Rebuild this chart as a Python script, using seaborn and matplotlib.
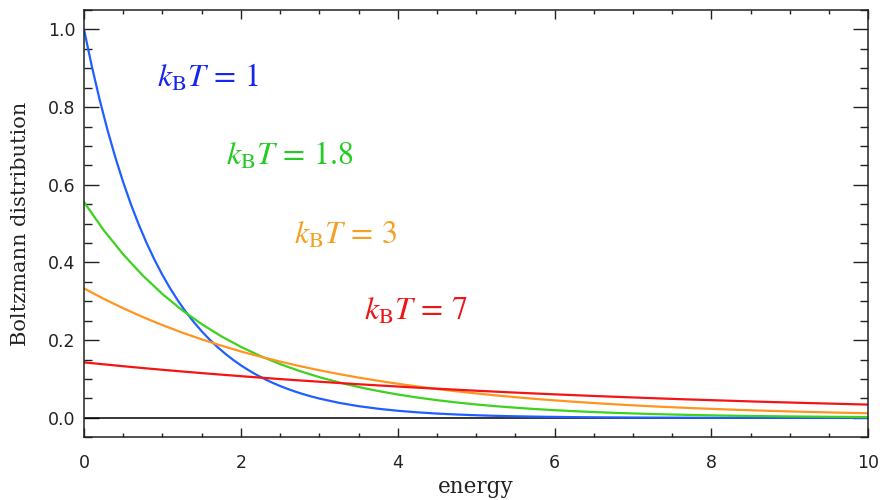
import numpy as np
import pandas as pd
import matplotlib
matplotlib.use("Agg")
import matplotlib.pyplot as plt
import seaborn as sns
from matplotlib.ticker import MultipleLocator

# ---- data (Boltzmann distribution curves) ----
energy = [0.0, 0.25, 0.5, 0.75, 1.0, 1.25, 1.5, 1.75, 2.0, 2.25, 2.5, 2.75,
          3.0, 3.25, 3.5, 3.75, 4.0, 4.25, 4.5, 4.75, 5.0, 5.25, 5.5, 5.75,
          6.0, 6.25, 6.5, 6.75, 7.0, 7.25, 7.5, 7.75, 8.0, 8.25, 8.5, 8.75,
          9.0, 9.25, 9.5, 9.75, 10.0]

# the steep kT=1 curve is read more densely near the origin
energy_kT1 = [0.0, 0.1, 0.2, 0.3, 0.4, 0.5, 0.6, 0.7, 0.8, 0.9, 1.0, 1.1, 1.2,
              1.3, 1.4, 1.5, 1.6, 1.7, 1.8, 1.9, 2.0, 2.1, 2.2, 2.3, 2.4, 2.5,
              2.6, 2.7, 2.8, 2.9, 3.0, 3.25, 3.5, 3.75, 4.0, 4.25, 4.5, 4.75,
              5.0, 5.25, 5.5, 5.75, 6.0, 6.25, 6.5, 6.75, 7.0, 7.25, 7.5, 7.75,
              8.0, 8.25, 8.5, 8.75, 9.0, 9.25, 9.5, 9.75, 10.0]

kT1 = [1.0, 0.9048, 0.8187, 0.7408, 0.6703, 0.6065, 0.5488, 0.4966, 0.4493,
       0.4066, 0.3679, 0.3329, 0.3012, 0.2725, 0.2466, 0.2231, 0.2019, 0.1827,
       0.1653, 0.1496, 0.1353, 0.1225, 0.1108, 0.1003, 0.0907, 0.0821, 0.0743,
       0.0672, 0.0608, 0.0550, 0.0498, 0.0388, 0.0302, 0.0235, 0.0183, 0.0143,
       0.0111, 0.0087, 0.0067, 0.0052, 0.0041, 0.0032, 0.0025, 0.0019, 0.0015,
       0.0012, 0.0009, 0.0007, 0.0006, 0.0004, 0.0003, 0.0003, 0.0002, 0.0002,
       0.0001, 0.0001, 0.0001, 0.0001, 0.0000]

kT18 = [0.5556, 0.4835, 0.4208, 0.3663, 0.3188, 0.2774, 0.2415, 0.2101, 0.1829,
        0.1592, 0.1385, 0.1206, 0.1049, 0.0913, 0.0795, 0.0692, 0.0602, 0.0524,
        0.0456, 0.0397, 0.0345, 0.0301, 0.0262, 0.0228, 0.0198, 0.0173, 0.0150,
        0.0131, 0.0114, 0.0099, 0.0086, 0.0075, 0.0065, 0.0057, 0.0049, 0.0043,
        0.0037, 0.0033, 0.0028, 0.0025, 0.0021]

kT3 = [0.3333, 0.3067, 0.2822, 0.2596, 0.2388, 0.2197, 0.2022, 0.1860, 0.1711,
       0.1575, 0.1449, 0.1333, 0.1226, 0.1128, 0.1038, 0.0955, 0.0879, 0.0808,
       0.0744, 0.0684, 0.0630, 0.0579, 0.0533, 0.0490, 0.0451, 0.0415, 0.0382,
       0.0351, 0.0323, 0.0297, 0.0274, 0.0252, 0.0232, 0.0213, 0.0196, 0.0180,
       0.0166, 0.0153, 0.0140, 0.0129, 0.0119]

kT7 = [0.1429, 0.1379, 0.1330, 0.1283, 0.1238, 0.1195, 0.1153, 0.1113, 0.1074,
       0.1036, 0.0999, 0.0964, 0.0931, 0.0898, 0.0866, 0.0836, 0.0807, 0.0778,
       0.0751, 0.0725, 0.0699, 0.0675, 0.0651, 0.0628, 0.0606, 0.0585, 0.0564,
       0.0545, 0.0526, 0.0507, 0.0489, 0.0472, 0.0456, 0.0440, 0.0424, 0.0409,
       0.0395, 0.0381, 0.0368, 0.0355, 0.0342]

series_names = ["1", "1.8", "3", "7"]
series_x = [energy_kT1, energy, energy, energy]
series_values = [kT1, kT18, kT3, kT7]
line_colors = ["#1f5fff", "#3cd21e", "#ff9520", "#f51414"]
text_colors = ["#1526ee", "#22cc22", "#f5a020", "#ee1515"]
label_pos = [(0.93, 0.852), (1.81, 0.651), (2.68, 0.449), (3.57, 0.2515)]

xticks = [0, 2, 4, 6, 8, 10]
yticks = [0.0, 0.2, 0.4, 0.6, 0.8, 1.0]

df = pd.concat([pd.DataFrame({"energy": x, "f": v, "kT": n})
                for n, x, v in zip(series_names, series_x, series_values)],
               ignore_index=True)

sns.set_style("white")
plt.rcParams["mathtext.fontset"] = "stix"

fig = plt.figure(figsize=(8.83, 5.0), dpi=100)
ax = fig.add_axes([84 / 883, 1 - 437.3 / 500, (868.3 - 84) / 883, (437.3 - 10) / 500])

ax.axhline(0.0, color="black", lw=1.1, zorder=1)
sns.lineplot(data=df, x="energy", y="f", hue="kT", palette=line_colors,
             hue_order=series_names, linewidth=1.6, legend=False, ax=ax,
             sort=False, zorder=2)

for n, c, (tx, ty) in zip(series_names, text_colors, label_pos):
    ax.text(tx, ty, r"$k_{\mathrm{B}}T\,=\," + n + "$", color=c, fontsize=23,
            ha="left", va="baseline")

ax.set_xlim(0, 10)
ax.set_ylim(-0.05, 1.05)
ax.set_xticks(xticks)
ax.set_yticks(yticks)
ax.set_xticklabels([str(t) for t in xticks])
ax.set_yticklabels([f"{t:.1f}" for t in yticks])
ax.xaxis.set_minor_locator(MultipleLocator(0.5))
ax.yaxis.set_minor_locator(MultipleLocator(0.05))

for s in ax.spines.values():
    s.set_color("#222222")
    s.set_linewidth(1.1)

ax.tick_params(axis="x", which="major", direction="in", length=6.2, width=1.0,
               top=True, bottom=True, pad=12, labelsize=12.5, colors="#222222")
ax.tick_params(axis="x", which="minor", direction="in", length=3.0, width=1.0,
               top=True, bottom=True, colors="#222222")
ax.tick_params(axis="y", which="major", direction="in", length=11, width=1.0,
               left=True, right=True, pad=6, labelsize=12.5, colors="#222222")
ax.tick_params(axis="y", which="minor", direction="in", length=5.5, width=1.0,
               left=True, right=True, colors="#222222")
for lab in ax.get_xticklabels() + ax.get_yticklabels():
    lab.set_color("#222222")

ax.set_xlabel("energy", fontsize=15.5, family="DejaVu Serif", color="#222222",
              labelpad=3)
ax.set_ylabel("Boltzmann distribution", fontsize=15, family="DejaVu Serif",
              color="#222222", labelpad=13)

fig.savefig("out.png", dpi=100)
